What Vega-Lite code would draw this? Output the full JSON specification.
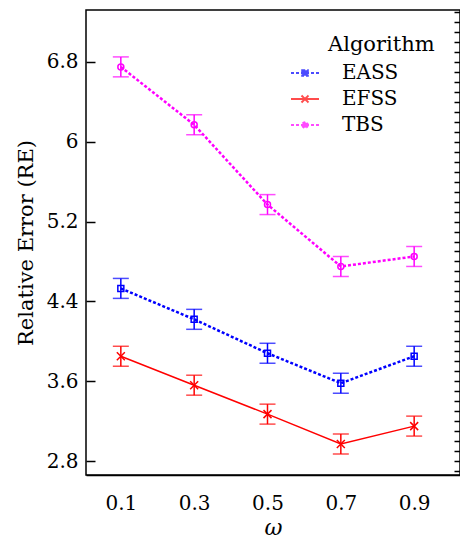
{
  "$schema": "https://vega.github.io/schema/vega-lite/v6.json",
  "width": 374,
  "height": 465,
  "autosize": {"type": "none"},
  "padding": {"left": 86, "top": 10, "right": 0, "bottom": 67},
  "background": "white",
  "config": {
    "view": {"stroke": "black", "strokeWidth": 1.5},
    "font": "DejaVu Serif",
    "axis": {"domainColor": "black", "domainWidth": 1.5, "labelColor": "black", "titleColor": "black", "labelFont": "DejaVu Serif", "titleFont": "DejaVu Serif", "titleFontWeight": "normal"},
    "legend": {"titleFont": "DejaVu Serif", "labelFont": "DejaVu Serif", "titleFontSize": 21, "titleFontWeight": "normal", "labelFontSize": 20, "titleColor": "black", "labelColor": "black", "padding": 0}
  },
  "data": {
    "values": [
      {"omega": 0.1, "Algorithm": "EASS", "value": 4.53, "lo": 4.43, "hi": 4.63},
      {"omega": 0.3, "Algorithm": "EASS", "value": 4.22, "lo": 4.12, "hi": 4.32},
      {"omega": 0.5, "Algorithm": "EASS", "value": 3.88, "lo": 3.78, "hi": 3.98},
      {"omega": 0.7, "Algorithm": "EASS", "value": 3.58, "lo": 3.48, "hi": 3.68},
      {"omega": 0.9, "Algorithm": "EASS", "value": 3.85, "lo": 3.75, "hi": 3.95},
      {"omega": 0.1, "Algorithm": "EFSS", "value": 3.85, "lo": 3.75, "hi": 3.95},
      {"omega": 0.3, "Algorithm": "EFSS", "value": 3.56, "lo": 3.46, "hi": 3.66},
      {"omega": 0.5, "Algorithm": "EFSS", "value": 3.27, "lo": 3.17, "hi": 3.37},
      {"omega": 0.7, "Algorithm": "EFSS", "value": 2.97, "lo": 2.87, "hi": 3.07},
      {"omega": 0.9, "Algorithm": "EFSS", "value": 3.15, "lo": 3.05, "hi": 3.25},
      {"omega": 0.1, "Algorithm": "TBS", "value": 6.75, "lo": 6.65, "hi": 6.85},
      {"omega": 0.3, "Algorithm": "TBS", "value": 6.17, "lo": 6.07, "hi": 6.27},
      {"omega": 0.5, "Algorithm": "TBS", "value": 5.37, "lo": 5.27, "hi": 5.47},
      {"omega": 0.7, "Algorithm": "TBS", "value": 4.75, "lo": 4.65, "hi": 4.85},
      {"omega": 0.9, "Algorithm": "TBS", "value": 4.85, "lo": 4.75, "hi": 4.95}
    ]
  },
  "encoding": {
    "x": {
      "field": "omega", "type": "quantitative",
      "scale": {"domain": [0.005, 1.025], "nice": false, "zero": false},
      "axis": {"values": [0.1, 0.3, 0.5, 0.7, 0.9], "format": ".1f", "ticks": false, "grid": false, "labelFontSize": 20, "labelPadding": 18, "title": "ω", "titleFontStyle": "italic", "titleFontSize": 22, "titlePadding": 4}
    },
    "color": {
      "field": "Algorithm", "type": "nominal",
      "scale": {"domain": ["EASS", "EFSS", "TBS"], "range": ["#0000ff", "#ff0000", "#ff00ff"]},
      "legend": {"orient": "none", "legendX": 242, "legendY": 24, "title": "Algorithm", "symbolSize": 784, "symbolStrokeWidth": 2, "symbolFillColor": "transparent", "symbolOffset": -38, "labelOffset": 22, "rowPadding": 1, "titlePadding": 3}
    }
  },
  "layer": [
    {
      "encoding": {
        "y": {
          "field": "value", "type": "quantitative", "title": "Relative Error (RE)",
          "scale": {"domain": [2.66, 7.32], "nice": false, "zero": false},
          "axis": {
            "orient": "left",
            "values": [2.8, 3.6, 4.4, 5.2, 6, 6.8],
            "format": ".1~f",
            "ticks": true, "tickSize": -9, "tickColor": "black", "tickWidth": 1.5, "domain": false, "grid": false,
            "labelFontSize": 20, "labelPadding": 17, "titleFontSize": 21, "titlePadding": 10
          }
        }
      },
      "layer": [
        {
          "transform": [{"filter": "datum.Algorithm != 'EFSS'"}],
          "mark": {"type": "line", "strokeWidth": 2.5, "strokeDash": [3, 2]}
        },
        {
          "transform": [{"filter": "datum.Algorithm == 'EFSS'"}],
          "mark": {"type": "line", "strokeWidth": 1.5}
        },
        {
          "mark": {"type": "errorbar", "ticks": true, "size": 16, "thickness": 1.5},
          "encoding": {
            "y": {"field": "lo", "type": "quantitative", "title": "Relative Error (RE)"},
            "y2": {"field": "hi"}
          }
        },
        {
          "transform": [{"filter": "datum.Algorithm == 'EASS'"}],
          "mark": {"type": "point", "shape": "square", "filled": false, "size": 36, "strokeWidth": 1.5, "opacity": 1}
        },
        {
          "transform": [{"filter": "datum.Algorithm == 'EFSS'"}],
          "mark": {"type": "point", "shape": "M-1,-1L1,1M-1,1L1,-1", "filled": false, "size": 64, "strokeWidth": 1.5, "opacity": 1}
        },
        {
          "transform": [{"filter": "datum.Algorithm == 'TBS'"}],
          "mark": {"type": "point", "shape": "circle", "filled": false, "size": 36, "strokeWidth": 1.5, "opacity": 1}
        }
      ]
    },
    {
      "transform": [{"filter": "datum.value < 0"}],
      "mark": {"type": "point", "filled": false, "strokeWidth": 2, "opacity": 1},
      "encoding": {
        "y": {
          "field": "value", "type": "quantitative",
          "scale": {"domain": [2.66, 7.32], "nice": false, "zero": false},
          "axis": {
            "orient": "right", "labels": false, "title": null, "domain": false, "grid": false,
            "ticks": true, "tickSize": -6, "tickColor": "black", "tickWidth": 1.5,
            "values": [2.7,2.8,2.9,3,3.1,3.2,3.3,3.4,3.5,3.6,3.7,3.8,3.9,4,4.1,4.2,4.3,4.4,4.5,4.6,4.7,4.8,4.9,5,5.1,5.2,5.3,5.4,5.5,5.6,5.7,5.8,5.9,6,6.1,6.2,6.3,6.4,6.5,6.6,6.7,6.8,6.9,7,7.1,7.2,7.3]
          }
        },
        "shape": {
          "field": "Algorithm", "type": "nominal",
          "scale": {"domain": ["EASS", "EFSS", "TBS"], "range": [
            "M-1,0H1M-0.2,-0.2H0.2V0.2H-0.2Z",
            "M-1,0H1M-0.25,-0.25L0.25,0.25M-0.25,0.25L0.25,-0.25",
            "M-1,0H1M0.2,0A0.2,0.2,0,1,1,-0.2,0A0.2,0.2,0,1,1,0.2,0Z"
          ]}
        },
        "strokeDash": {
          "field": "Algorithm", "type": "nominal",
          "scale": {"domain": ["EASS", "EFSS", "TBS"], "range": [[3, 2], [1, 0], [3, 2]]}
        }
      }
    }
  ],
  "resolve": {"scale": {"y": "independent"}}
}
